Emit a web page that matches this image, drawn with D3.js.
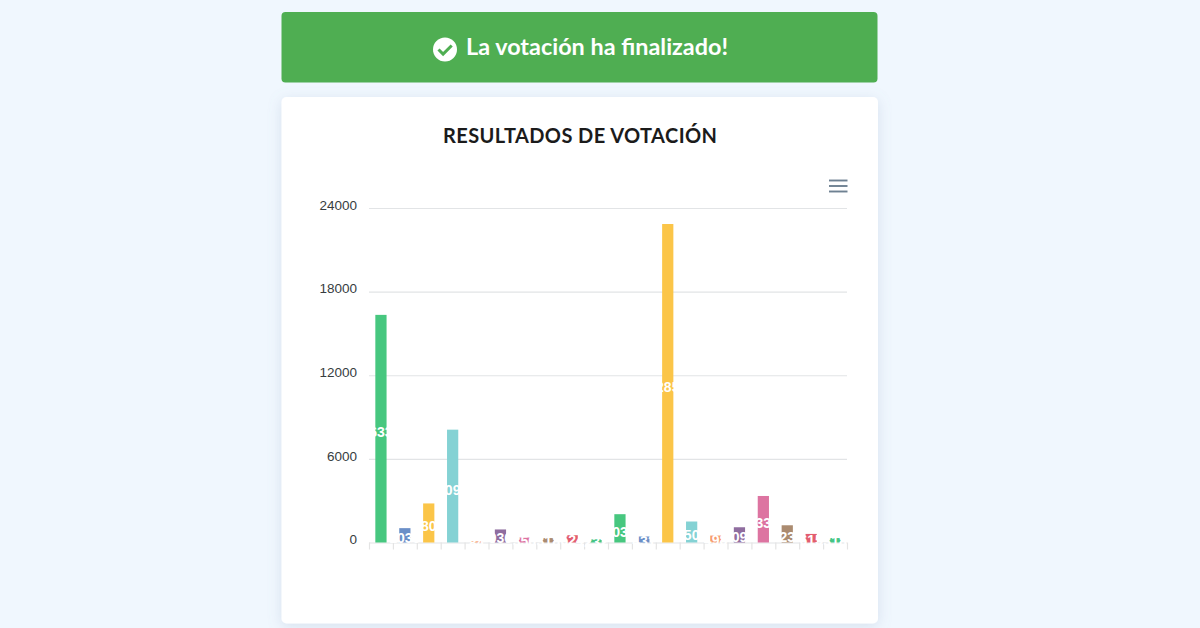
<!DOCTYPE html>
<html>
<head>
<meta charset="utf-8">
<script src="https://cdnjs.cloudflare.com/ajax/libs/d3/7.8.5/d3.min.js"></script>
<style>
  html, body { margin: 0; padding: 0; background: #f0f7fe; overflow: hidden; }
  #chart { width: 1200px; height: 628px; }
  .axis-y .domain, .axis-x .domain { display: none; }
  .axis-y line { stroke: #e2e4e6; stroke-width: 1.2px; }
  .axis-x line { stroke: #e4e4e4; stroke-width: 1.2px; }
  .axis-y text { font-family: "Liberation Sans", Arial, sans-serif; font-size: 13.5px; fill: #373d3f; }
</style>
</head>
<body>
<div id="chart"></div>
<script>
const bannerText = 'La votación ha finalizado!';
const chartTitle = 'RESULTADOS DE VOTACIÓN';
const options = d3.range(1, 21).map(d => 'Opción ' + d);
const votes = [16332, 1030, 2803, 8096, 84, 936, 356, 318, 524, 232, 2031, 431, 22851, 1506, 498, 1094, 3338, 1236, 615, 318];
const yTicks = [0, 6000, 12000, 18000, 24000];
const palette = ['#47c77f', '#6a8fc8', '#fbc548', '#84d2d4', '#f79a6c', '#8f6d9f', '#dd74a1', '#ab8b70', '#e35d6f', '#45c585'];

const margin = { top: 208, left: 369, right: 353, bottom: 85.5 };
const width = 1200, height = 628;

const svg = d3.select('#chart').append('svg')
  .attr('width', width)
  .attr('height', height);

const defs = svg.append('defs');
const shadow = defs.append('filter').attr('id', 'shadow')
  .attr('x', '-10%').attr('y', '-10%').attr('width', '120%').attr('height', '120%');
shadow.append('feDropShadow')
  .attr('dx', 0).attr('dy', 3).attr('stdDeviation', 7)
  .attr('flood-color', '#7b93b5').attr('flood-opacity', 0.22);

// banner
svg.append('rect')
  .attr('x', 281.5).attr('y', 12).attr('width', 596).attr('height', 70.5).attr('rx', 4)
  .attr('fill', '#4fae52');
svg.append('circle').attr('cx', 445).attr('cy', 49.5).attr('r', 12).attr('fill', '#fff');
svg.append('path')
  .attr('d', 'M438.5 49.5l4.6 4.6 8.6-8.6')
  .attr('fill', 'none').attr('stroke', '#4fae52').attr('stroke-width', 3);
svg.append('text')
  .attr('x', 466).attr('y', 55)
  .attr('textLength', 262).attr('lengthAdjust', 'spacingAndGlyphs')
  .style('font-family', 'Lato, sans-serif').style('font-weight', 700).style('font-size', '23.5px')
  .attr('fill', '#fff')
  .text(bannerText);

// card
svg.append('rect')
  .attr('x', 281.5).attr('y', 97).attr('width', 596.5).attr('height', 526.5).attr('rx', 5)
  .attr('fill', '#fff').attr('filter', 'url(#shadow)');
svg.append('text')
  .attr('x', 443).attr('y', 142.5)
  .attr('textLength', 274).attr('lengthAdjust', 'spacing')
  .style('font-family', 'Lato, sans-serif').style('font-weight', 700).style('font-size', '20px')
  .attr('fill', '#1b1b1b')
  .text(chartTitle);

// menu icon
svg.append('g').selectAll('line').data([180.5, 186, 191.5]).enter().append('line')
  .attr('x1', 829).attr('x2', 847.5)
  .attr('y1', d => d).attr('y2', d => d)
  .attr('stroke', '#6e8192').attr('stroke-width', 1.9);

const x = d3.scaleBand()
  .domain(options)
  .range([margin.left, width - margin.right])
  .paddingInner(0.53)
  .paddingOuter(0.265);
const tickX = d3.scaleLinear()
  .domain([0, options.length])
  .range([margin.left, width - margin.right]);
const y = d3.scaleLinear()
  .domain([0, 24000])
  .range([height - margin.bottom, margin.top]);

// y axis with grid
const yAxis = svg.append('g')
  .attr('class', 'axis-y')
  .attr('transform', `translate(${margin.left},0)`)
  .call(d3.axisLeft(y).tickValues(yTicks).tickSize(-(width - margin.left - margin.right)).tickPadding(12).tickFormat(d3.format('d')));
yAxis.selectAll('text').attr('dy', '0.09em');

// x axis ticks only, no labels
svg.append('g')
  .attr('class', 'axis-x')
  .attr('transform', `translate(0,${y(0)})`)
  .call(d3.axisBottom(tickX).tickValues(d3.range(options.length + 1)).tickSize(7).tickFormat(''));

// bars
svg.append('g')
  .selectAll('rect')
  .data(votes)
  .enter()
  .append('rect')
  .attr('x', (d, i) => x(options[i]))
  .attr('y', d => y(d))
  .attr('width', x.bandwidth())
  .attr('height', d => y(0) - y(d))
  .attr('fill', (d, i) => palette[i % palette.length]);

// value labels, white so they only show over the bar
// short bars get a smaller drop so the digits stay centred on them
svg.append('g')
  .selectAll('text')
  .data(votes)
  .enter()
  .append('text')
  .attr('x', (d, i) => x(options[i]) + x.bandwidth() / 2)
  .attr('y', d => {
    const h = y(0) - y(d);
    return (y(d) + y(0)) / 2 + Math.min(8.5, 5.5 + h / 8);
  })
  .attr('text-anchor', 'middle')
  .style('font-family', '"Liberation Sans", Arial, sans-serif')
  .style('font-size', '14px')
  .style('font-weight', 700)
  .attr('fill', '#fff')
  .text(d => d);
</script>
</body>
</html>
